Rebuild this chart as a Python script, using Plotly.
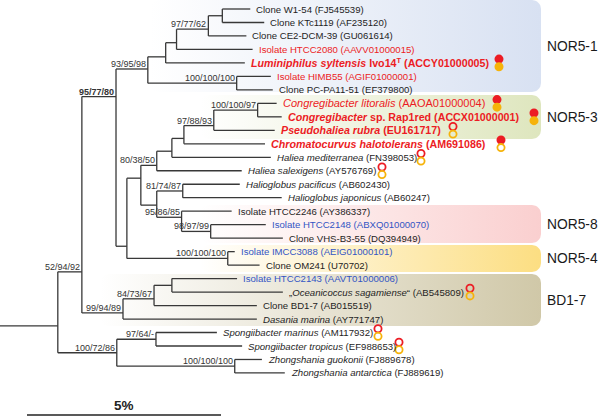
import plotly.graph_objects as go

# ------------------------------------------------------------------ data ----
# leaves, top to bottom
leaf_labels = [
    "Clone W1-54 (FJ545539)",
    "Clone KTc1119 (AF235120)",
    "Clone CE2-DCM-39 (GU061614)",
    "Isolate HTCC2080 (AAVV01000015)",
    "<i>Luminiphilus syltensis</i> Ivo14<sup>T</sup> (ACCY01000005)",
    "Isolate HIMB55 (AGIF01000001)",
    "Clone PC-PA11-51 (EF379800)",
    "<i>Congregibacter litoralis</i> (AAOA01000004)",
    "<i>Congregibacter</i> sp. Rap1red (ACCX01000001)",
    "<i>Pseudohaliea rubra</i> (EU161717)",
    "<i>Chromatocurvus halotolerans</i> (AM691086)",
    "<i>Haliea mediterranea</i> (FN398053)",
    "<i>Haliea salexigens</i> (AY576769)",
    "<i>Halioglobus pacificus</i> (AB602430)",
    "<i>Halioglobus japonicus</i> (AB60247)",
    "Isolate HTCC2246 (AY386337)",
    "Isolate HTCC2148 (ABXQ01000070)",
    "Clone VHS-B3-55 (DQ394949)",
    "Isolate IMCC3088 (AEIG01000101)",
    "Clone OM241 (U70702)",
    "Isolate HTCC2143 (AAVT01000006)",
    "\u201e<i>Oceanicoccus sagamiense</i>\u201c (AB545809)",
    "Clone BD1-7 (AB015519)",
    "<i>Dasania marina</i> (AY771747)",
    "<i>Spongiibacter marinus</i> (AM117932)",
    "<i>Spongiibacter tropicus</i> (EF988653)",
    "<i>Zhongshania guokonii</i> (FJ889678)",
    "<i>Zhongshania antarctica</i> (FJ889619)",
]
leaf_kind = [
    "other", "other", "other", "aap_genome", "aap_strain", "aap_genome", "other",
    "aap_genome_nor53", "aap_strain", "aap_strain", "aap_strain", "other", "other",
    "other", "other", "other", "genome", "other", "genome", "other", "genome",
    "other", "other", "other", "other", "other", "other", "other",
]
leaf_parent = ["G", "G", "F", "E", "D", "H", "H", "N", "N", "M", "L2", "L", "K", "P",
               "P", "Q", "R", "R", "S", "S", "V", "V", "U", "T", "X", "X", "Y", "Y"]
leaf_branch = [0.72, 1.08, 0.98, 1.96, 2.04, 0.88, 0.93, 0.49, 0.62, 1.57, 2.09, 2.55,
               2.19, 1.47, 2.55, 1.29, 1.42, 1.86, 0.18, 0.82, 1.68, 2.86, 2.65, 3.45,
               1.57, 2.22, 0.70, 1.29]
# pigment traits: red = BChl a, orange = carotenoids ("F" filled, "O" open, "" none)
trait_bchl = ["", "", "", "", "F", "", "", "F", "F", "O", "F", "O", "O", "", "", "", "",
              "", "", "", "", "O", "", "", "O", "O", "", ""]
trait_carot = ["", "", "", "", "F", "", "", "F", "F", "O", "O", "O", "O", "", "", "", "",
               "", "", "", "", "O", "", "", "O", "O", "", ""]

# internal nodes (branch lengths in % sequence divergence)
node_ids = ["root", "A", "B", "C", "D", "E", "F", "G", "H", "I", "J", "K", "L", "L2",
            "M", "N", "O", "P", "Q", "R", "S", "T", "U", "V", "W", "X", "Y"]
node_parent = [None, "root", "A", "B", "C", "D", "E", "F", "C", "B", "I", "J", "K", "L",
               "L2", "M", "J", "O", "O", "Q", "I", "A", "T", "U", "root", "W", "W"]
node_branch = [1.49, 0.62, 0.88, 0.82, 0.46, 0.28, 0.82, 0.36, 2.29, 0.28, 0.36, 0.41,
               0.39, 0.31, 0.77, 1.13, 0.41, 0.67, 0.64, 0.75, 2.60, 1.06, 0.80, 0.46,
               1.52, 1.01, 3.04]
node_row = [24.5, 20.5, 7.5, 5.45, 4.55, 3.5, 2.5, 1.5, 6.5, 18.6, 13.55, 12.6, 11.55,
            10.6, 9.65, 8.5, 15.55, 14.5, 16.45, 17.5, 19.5, 23.55, 22.5, 21.5, 26.5,
            25.5, 27.5]
node_support = ["", "52/94/92", "95/77/80", "93/95/98", "", "", "97/77/62", "",
                "100/100/100", "", "", "80/38/50", "", "", "97/88/93", "100/100/97", "",
                "81/74/87", "95/86/85", "98/97/99", "100/100/100", "99/94/89",
                "84/73/67", "", "100/72/86", "97/64/-", "100/100/100"]

# clusters: name, first leaf, last leaf
cluster_names = ["NOR5-1", "NOR5-3", "NOR5-8", "NOR5-4", "BD1-7"]
cluster_first = [1, 8, 16, 19, 21]
cluster_last = [7, 10, 18, 20, 24]

scale_bar_pct = 5

# ---------------------------------------------------------------- layout ----
W, H = 600, 419
PX_PER_PCT = 38.8
ROW0_PX, ROW_PX = 9.0, 13.48


def xpx(p):
    return p / PX_PER_PCT


def ypx(p):
    return (p - ROW0_PX) / ROW_PX + 1


FONT = "Arial, Liberation Sans, sans-serif"
LINE = "#383838"
RED = "#ec1c24"
BLUE = "#3355c4"
ORANGE = "#f6b30a"

kind_style = {
    "other": dict(color="#1e1e1e", size=9.6, bold=False),
    "aap_genome": dict(color=RED, size=9.6, bold=False),
    "aap_genome_nor53": dict(color=RED, size=11, bold=False),
    "aap_strain": dict(color=RED, size=10.7, bold=True),
    "genome": dict(color=BLUE, size=9.6, bold=False),
}

cluster_style = {
    "NOR5-1": dict(rgb=(216, 225, 242), top=0, bot=92, left=150),
    "NOR5-3": dict(rgb=(222, 230, 190), top=95, bot=139, left=200),
    "NOR5-8": dict(rgb=(250, 207, 207), top=205, bot=243, left=200),
    "NOR5-4": dict(rgb=(252, 222, 130), top=245, bot=272, left=200),
    "BD1-7": dict(rgb=(208, 200, 168), top=274, bot=326, left=100),
}
BOX_RIGHT = 541
BOX_R = 9

marker_x_px = {5: 499, 8: 497, 9: 534, 10: 453, 11: 501, 12: 421, 13: 382, 22: 470,
               25: 378, 26: 399}

# ----------------------------------------------------------- tree layout ----
parent = dict(zip(node_ids, node_parent))
blen = dict(zip(node_ids, node_branch))
row = dict(zip(node_ids, node_row))
leaf_ids = [f"leaf{i + 1}" for i in range(len(leaf_labels))]
for i, lid in enumerate(leaf_ids):
    parent[lid] = leaf_parent[i]
    blen[lid] = leaf_branch[i]
    row[lid] = i + 1

xpos = {}


def depth(n):
    if n in xpos:
        return xpos[n]
    p = parent[n]
    d = blen[n] + (0 if p is None else depth(p))
    xpos[n] = d
    return d


for n in parent:
    depth(n)

children = {}
for n, p in parent.items():
    if p is not None:
        children.setdefault(p, []).append(n)

lx, ly = [], []
# stem of root
lx += [0, xpos["root"], None]
ly += [row["root"], row["root"], None]
for n, p in parent.items():
    if p is None:
        continue
    lx += [xpos[p], xpos[n], None]
    ly += [row[n], row[n], None]
for n, ch in children.items():
    rs = [row[c] for c in ch]
    lx += [xpos[n], xpos[n], None]
    ly += [min(rs), max(rs), None]

fig = go.Figure()


# cluster boxes with horizontal gradient
def rrect(x0, x1, y0, y1, r, n=8):
    import math
    pts = []
    corners = [(x1 - r, y0 + r, -90, 0), (x1 - r, y1 - r, 0, 90),
               (x0 + r, y1 - r, 90, 180), (x0 + r, y0 + r, 180, 270)]
    for cx, cy, a0, a1 in corners:
        for k in range(n + 1):
            a = math.radians(a0 + (a1 - a0) * k / n)
            pts.append((cx + r * math.cos(a), cy + r * math.sin(a)))
    pts.append(pts[0])
    return [xpx(p[0]) for p in pts], [ypx(p[1]) for p in pts]


for name in cluster_names:
    st = cluster_style[name]
    bx, by = rrect(st["left"], BOX_RIGHT, st["top"], st["bot"], BOX_R)
    r_, g_, b_ = st["rgb"]
    fig.add_trace(go.Scatter(
        x=bx, y=by, mode="lines", line=dict(width=0), fill="toself",
        fillgradient=dict(type="horizontal", colorscale=[
            [0, f"rgba({r_},{g_},{b_},0)"],
            [0.45, f"rgba({r_},{g_},{b_},0.45)"],
            [1, f"rgba({r_},{g_},{b_},1)"]]),
        hoverinfo="skip", showlegend=False))

fig.add_trace(go.Scatter(x=lx, y=ly, mode="lines",
                         line=dict(color=LINE, width=1.3),
                         hoverinfo="skip", showlegend=False))

annotations = []
# leaf labels
for i, lid in enumerate(leaf_ids):
    st = kind_style[leaf_kind[i]]
    txt = leaf_labels[i]
    if st["bold"]:
        txt = f"<b>{txt}</b>"
    annotations.append(dict(
        x=xpos[lid], y=row[lid], text=txt, showarrow=False, xanchor="left",
        yanchor="middle", xshift=4, font=dict(family=FONT, size=st["size"],
                                              color=st["color"])))

# support values
for nid, sup in zip(node_ids, node_support):
    if not sup:
        continue
    txt = f"<b>{sup}</b>" if nid == "B" else sup
    annotations.append(dict(
        x=xpos[nid], y=row[nid], text=txt, showarrow=False, xanchor="right",
        yanchor="bottom", xshift=0, yshift=-2,
        font=dict(family=FONT, size=9, color="#333333")))

# cluster labels
for name, f, l in zip(cluster_names, cluster_first, cluster_last):
    st = cluster_style[name]
    annotations.append(dict(
        x=xpx(545), y=ypx((st["top"] + st["bot"]) / 2), text=name, showarrow=False,
        xanchor="left", yanchor="middle",
        font=dict(family=FONT, size=13.8, color="#1a1a1a")))

# pigment markers
for trait, dy, col in [(trait_bchl, -3.8, RED), (trait_carot, 3.8, ORANGE)]:
    mx, my, sym = [], [], []
    for i, s in enumerate(trait):
        if not s:
            continue
        mx.append(xpx(marker_x_px[i + 1]))
        my.append(row[leaf_ids[i]] + dy / ROW_PX)
        sym.append("circle" if s == "F" else "circle-open")
    fig.add_trace(go.Scatter(
        x=mx, y=my, mode="markers",
        marker=dict(symbol=sym, size=7.2, color=col, line=dict(color=col, width=1.8)),
        hoverinfo="skip", showlegend=False))

# scale bar
sb0 = xpx(27)
fig.add_trace(go.Scatter(x=[sb0, sb0 + scale_bar_pct], y=[ypx(415), ypx(415)],
                         mode="lines", line=dict(color="#222222", width=1.6),
                         hoverinfo="skip", showlegend=False))
annotations.append(dict(x=sb0 + scale_bar_pct / 2, y=ypx(405), text=f"<b>{scale_bar_pct}%</b>",
                        showarrow=False, xanchor="center", yanchor="middle",
                        font=dict(family=FONT, size=13.5, color="#222222")))

fig.update_layout(
    width=W, height=H, margin=dict(l=0, r=0, t=0, b=0),
    paper_bgcolor="white", plot_bgcolor="white",
    xaxis=dict(range=[0, xpx(W)], visible=False, fixedrange=True),
    yaxis=dict(range=[ypx(H), ypx(0)], visible=False, fixedrange=True),
    annotations=annotations, showlegend=False,
)
fig.write_html("out.html", config={"displayModeBar": False},
               post_script="document.body.style.margin='0';document.body.style.overflow='hidden';")
